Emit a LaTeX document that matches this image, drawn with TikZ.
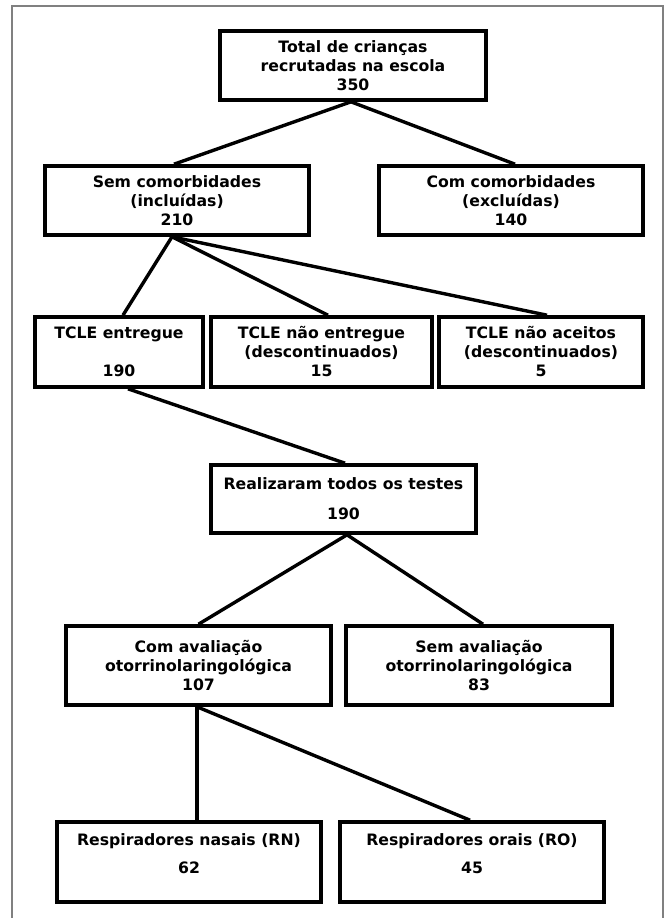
\documentclass[tikz,border=0pt]{standalone}
\usepackage{fontspec}
\setmainfont{DejaVu Sans}
\begin{document}
\begin{tikzpicture}[x=1pt,y=-1pt,
  box/.style={draw=black, line width=3.6pt, rectangle, inner sep=0pt, align=center,
    font=\bfseries\fontsize{15.7}{19}\selectfont},
  link/.style={draw=black, line width=3.4pt},
  frame/.style={draw=black!50, line width=1.3pt}]
\useasboundingbox (0,0) rectangle (667,918);
\fill[white] (0,0) rectangle (667,918);
\coordinate (fa) at (12,918);
\coordinate (fb) at (12,6);
\coordinate (fc) at (663,6);
\coordinate (fd) at (663,918);
\draw[frame] (fa) -- (fb) -- (fc) -- (fd);

\node[box, minimum width=266, minimum height=69] (b1) at (353,65.5)
  {Total de crianças\\recrutadas na escola\\350};
\node[box, minimum width=264, minimum height=69] (b2) at (177,200.5)
  {Sem comorbidades\\(incluídas)\\210};
\node[box, minimum width=264, minimum height=69] (b3) at (511,200.5)
  {Com comorbidades\\(excluídas)\\140};

\node[box, minimum width=168, minimum height=70] (c1) at (119,352)
  {TCLE entregue\\[19pt]190};
\node[box, minimum width=221, minimum height=70] (c2) at (321.5,352)
  {TCLE não entregue\\(descontinuados)\\15};
\node[box, minimum width=204, minimum height=70] (c3) at (541,352)
  {TCLE não aceitos\\(descontinuados)\\5};

\node[box, minimum width=265, minimum height=68] (d) at (343.5,499)
  {Realizaram todos os testes\\[11pt]190};

\node[box, minimum width=265, minimum height=79] (e1) at (198.5,665.5)
  {Com avaliação\\otorrinolaringológica\\107};
\node[box, minimum width=266, minimum height=79] (e2) at (479,665.5)
  {Sem avaliação\\otorrinolaringológica\\83};

\node[box, minimum width=264, minimum height=80] (f1) at (189,862)
  {Respiradores nasais (RN)\\[9pt]62\\[-3pt]\mbox{}};
\node[box, minimum width=264, minimum height=80] (f2) at (472,862)
  {Respiradores orais (RO)\\[9pt]45\\[-3pt]\mbox{}};

\draw[link] ([xshift=-2pt]b1.south) -- ([xshift=-3pt]b2.north);
\draw[link] ([xshift=-2pt]b1.south) -- ([xshift=4pt]b3.north);

\draw[link] ([xshift=-5pt]b2.south) -- ([xshift=4pt]c1.north);
\draw[link] ([xshift=-5pt]b2.south) -- ([xshift=6.5pt]c2.north);
\draw[link] ([xshift=-5pt]b2.south) -- ([xshift=6pt]c3.north);

\draw[link] ([xshift=9pt]c1.south) -- ([xshift=1.5pt]d.north);

\draw[link] ([xshift=3.5pt]d.south) -- (e1.north);
\draw[link] ([xshift=3.5pt]d.south) -- ([xshift=4pt]e2.north);

\draw[link] ([xshift=-1.5pt]e1.south) -- ([xshift=8pt]f1.north);
\draw[link] ([xshift=-1.5pt]e1.south) -- ([xshift=-2pt]f2.north);
\end{tikzpicture}
\end{document}
